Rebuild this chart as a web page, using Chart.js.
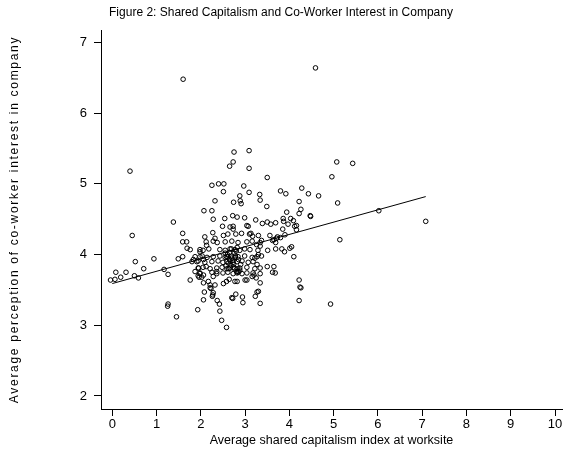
<!DOCTYPE html>
<html>
<head>
<meta charset="utf-8">
<script src="https://cdn.jsdelivr.net/npm/chart.js@4.4.1/dist/chart.umd.min.js"></script>
<style>
  html, body { margin: 0; padding: 0; background: #fff; }
  canvas { display: block; }
</style>
</head>
<body>
<canvas id="scatter" width="567" height="453"></canvas>
<script>
// 文字
const chartTitle = 'Figure 2: Shared Capitalism and Co-Worker Interest in Company';
const xTitle = 'Average shared capitalism index at worksite';
const yTitle = 'Average perception of co-worker interest in company';

// 刻度
const xTicks = [0, 1, 2, 3, 4, 5, 6, 7, 8, 9, 10];
const yTicks = [2, 3, 4, 5, 6, 7];

// 散點 [shared capitalism index, co-worker interest]
const leftTail = [
  [-0.04, 3.64], [0.06, 3.65], [0.08, 3.75], [0.19, 3.68], [0.31, 3.75], [0.40, 5.18],
  [0.45, 4.27], [0.50, 3.70], [0.52, 3.90], [0.59, 3.67], [0.71, 3.80], [0.94, 3.94],
  [1.17, 3.79], [1.26, 3.72], [1.25, 3.27], [1.26, 3.30], [1.38, 4.46], [1.45, 3.12],
  [1.49, 3.94], [1.59, 3.97], [1.59, 4.30], [1.59, 4.18], [1.68, 4.18], [1.69, 4.09],
  [1.60, 6.48], [1.76, 3.64], [1.76, 4.07], [1.93, 3.22]
];

const upperBand = [
  [2.07, 4.62], [2.25, 4.62], [2.28, 4.50], [2.32, 4.76], [2.25, 4.98], [2.40, 5.00],
  [2.52, 5.00], [2.51, 4.89], [2.97, 4.97], [3.09, 4.88], [2.88, 4.83], [2.89, 4.76],
  [2.91, 4.72], [2.74, 4.74], [3.33, 4.85], [3.34, 4.77], [3.49, 4.68], [2.75, 5.45],
  [3.09, 5.47], [2.73, 5.31], [2.65, 5.25], [3.09, 5.22], [3.50, 5.09], [3.80, 4.90],
  [3.92, 4.86], [4.28, 4.94], [4.43, 4.86], [4.66, 4.83], [4.22, 4.75], [4.26, 4.64],
  [4.22, 4.58], [4.47, 4.55], [4.48, 4.54], [3.94, 4.60], [5.07, 5.31], [5.43, 5.29],
  [4.96, 5.10], [5.09, 4.73], [6.02, 4.62], [4.59, 6.64], [7.08, 4.47], [2.54, 4.51],
  [2.72, 4.55], [2.82, 4.53], [2.99, 4.52], [3.24, 4.49], [3.86, 4.51], [4.03, 4.51],
  [4.09, 4.48]
];

const middleBand = [
  [3.04, 4.41], [3.39, 4.44], [3.50, 4.46], [3.58, 4.43], [3.69, 4.45], [3.87, 4.47],
  [3.97, 4.43], [4.16, 4.41], [4.16, 4.35], [4.12, 4.40], [3.85, 4.36], [3.90, 4.28],
  [3.80, 4.24], [3.71, 4.23], [3.65, 4.21], [3.62, 4.20], [3.56, 4.27], [2.49, 4.40],
  [2.66, 4.39], [2.73, 4.40], [3.07, 4.40], [3.10, 4.29], [2.27, 4.31], [2.09, 4.25],
  [2.32, 4.23], [2.13, 4.13], [2.51, 4.27], [2.61, 4.29], [2.73, 4.36], [2.79, 4.29],
  [2.92, 4.30], [3.13, 4.30], [3.17, 4.26], [3.30, 4.27], [3.37, 4.20], [3.73, 4.25],
  [3.69, 4.17], [5.14, 4.21], [2.12, 4.18], [2.28, 4.19], [2.37, 4.17], [2.55, 4.18],
  [2.70, 4.19], [2.84, 4.17], [3.04, 4.18], [3.16, 4.19], [3.34, 4.17],
  [3.69, 4.08], [3.83, 4.08], [3.89, 4.04], [4.01, 4.09], [4.05, 4.11], [4.10, 3.97],
  [3.51, 4.06], [3.26, 4.14], [3.34, 4.12], [3.30, 4.00], [3.22, 3.95], [3.37, 3.98]
];

const coreCluster = [
  [1.98, 4.07], [2.05, 4.06], [2.18, 4.08], [2.43, 4.07], [2.55, 4.06], [2.66, 4.08],
  [2.77, 4.07], [2.88, 4.06], [2.99, 4.08], [3.11, 4.07], [3.29, 4.06],
  [1.87, 3.97], [2.03, 3.98], [2.14, 3.96], [2.28, 3.97], [2.43, 3.98], [2.55, 3.96],
  [2.61, 3.97], [2.70, 3.98], [2.77, 3.96], [2.84, 3.97], [2.99, 3.98], [3.16, 3.96],
  [3.27, 3.97],
  [1.80, 3.90], [1.94, 3.91], [2.09, 3.89], [2.25, 3.90], [2.39, 3.91], [2.50, 3.89],
  [2.59, 3.90], [2.66, 3.91], [2.73, 3.89], [2.82, 3.90], [2.93, 3.91], [3.07, 3.89],
  [3.18, 3.90],
  [1.94, 3.81], [2.05, 3.82], [2.21, 3.80], [2.36, 3.81], [2.48, 3.82], [2.59, 3.80],
  [2.66, 3.81], [2.73, 3.82], [2.82, 3.80], [2.88, 3.81], [3.04, 3.82], [3.22, 3.80],
  [1.98, 3.74], [2.25, 3.75], [2.36, 3.73], [2.50, 3.74], [2.61, 3.75], [2.73, 3.73],
  [2.82, 3.74], [2.84, 3.75], [2.93, 3.73], [3.04, 3.74],
  [2.60, 4.00], [2.65, 4.03], [2.70, 3.95], [2.75, 4.02], [2.62, 3.88], [2.68, 3.85],
  [2.72, 3.92], [2.78, 3.98], [2.65, 3.93], [2.80, 4.05], [2.58, 3.97], [2.74, 3.86],
  [2.85, 3.93], [2.55, 4.02], [2.69, 4.08], [2.76, 3.80], [2.63, 3.80], [2.90, 3.86],
  [2.82, 4.10], [2.57, 3.84], [2.86, 3.76], [2.88, 3.78],
  [1.98, 3.97], [1.91, 3.90], [2.06, 3.93], [2.12, 3.83], [1.95, 3.81], [1.87, 3.76],
  [2.06, 3.71], [1.96, 3.68], [2.28, 3.69], [2.17, 3.62], [2.36, 3.76], [1.83, 3.93],
  [1.98, 4.04]
];

const lowerBand = [
  [1.94, 3.70], [1.98, 3.73], [2.02, 3.68], [2.06, 3.60], [2.08, 3.47], [2.06, 3.36],
  [2.21, 3.57], [2.23, 3.52], [2.28, 3.46], [2.26, 3.41], [2.37, 3.35], [2.42, 3.30],
  [2.43, 3.20], [2.47, 3.07], [2.58, 2.97], [2.51, 3.59], [2.58, 3.62], [2.64, 3.65],
  [2.77, 3.62], [2.70, 3.39], [2.79, 3.44], [2.94, 3.40], [2.95, 3.32], [2.82, 3.62],
  [2.81, 3.76], [3.00, 3.64], [3.04, 3.64], [3.16, 3.69], [3.20, 3.71], [3.34, 3.73],
  [3.25, 3.67], [3.34, 3.60], [3.27, 3.47], [3.23, 3.41], [3.34, 3.31], [3.18, 3.74],
  [2.72, 3.38], [2.27, 3.43], [3.30, 3.48], [2.21, 3.53], [2.32, 3.57],
  [3.65, 3.83], [3.62, 3.75], [3.50, 3.83], [3.68, 3.74], [4.22, 3.64], [4.24, 3.54],
  [4.26, 3.53], [4.22, 3.35], [4.93, 3.30], [3.27, 3.86], [3.34, 3.81]
];

// 迴歸線兩端
const fitX = [0, 7.08];
const fitY = [3.59, 4.82];

const allPoints = [...leftTail, ...upperBand, ...middleBand, ...coreCluster, ...lowerBand]
  .map(p => ({ x: p[0], y: p[1] }));
const fitLine = fitX.map((x, i) => ({ x, y: fitY[i] }));

const tickFont = { family: "'Liberation Sans', Arial, sans-serif", size: 13 };
const textFont = { family: "'Liberation Sans', Arial, sans-serif", size: 12.5 };

// y 軸標題（字距較寬，所以自己畫）
const yTitlePlugin = {
  id: 'yTitle',
  afterDraw(chart) {
    const { ctx, chartArea } = chart;
    ctx.save();
    ctx.translate(15, (chartArea.top + chartArea.bottom) / 2);
    ctx.rotate(-Math.PI / 2);
    ctx.font = "12px 'Liberation Sans', Arial, sans-serif";
    ctx.letterSpacing = '1.7px';
    ctx.textAlign = 'center';
    ctx.textBaseline = 'middle';
    ctx.fillStyle = '#000';
    ctx.fillText(yTitle, 0, 0);
    ctx.restore();
  }
};

const axisCommon = {
  type: 'linear',
  grid: { display: true, drawOnChartArea: false, drawTicks: true, tickLength: 7, color: '#000', lineWidth: 1 },
  border: { display: true, color: '#000', width: 1 },
};

new Chart(document.getElementById('scatter'), {
  type: 'scatter',
  data: {
    datasets: [
      {
        data: allPoints,
        pointStyle: 'circle',
        pointRadius: 2.3,
        pointBorderWidth: 1,
        pointBorderColor: '#000',
        pointBackgroundColor: 'rgba(0,0,0,0)'
      },
      {
        data: fitLine,
        showLine: true,
        borderColor: '#000',
        borderWidth: 1,
        pointRadius: 0,
        fill: false
      }
    ]
  },
  options: {
    responsive: false,
    animation: false,
    devicePixelRatio: 1,
    layout: { padding: { left: 0, right: 5, top: 0, bottom: 0 } },
    plugins: {
      legend: { display: false },
      tooltip: { enabled: false },
      title: {
        display: true,
        text: chartTitle,
        color: '#000',
        font: { ...textFont, size: 12, weight: 'normal', lineHeight: 1 },
        padding: { top: 7, bottom: 11 }
      }
    },
    scales: {
      x: {
        ...axisCommon,
        min: -0.255,
        max: 10.158,
        afterBuildTicks: s => { s.ticks = xTicks.map(v => ({ value: v })); },
        afterFit: s => { s.height = 44; },
        ticks: { color: '#000', font: tickFont, padding: 1, maxRotation: 0 },
        title: { display: true, text: xTitle, color: '#000', font: textFont, padding: { top: 0, bottom: 4.5 } }
      },
      y: {
        ...axisCommon,
        min: 1.816,
        max: 7.176,
        afterBuildTicks: s => { s.ticks = yTicks.map(v => ({ value: v })); },
        afterFit: s => { s.width = 101; },
        ticks: { color: '#000', font: tickFont, padding: 7 }
      }
    }
  },
  plugins: [yTitlePlugin]
});
</script>
</body>
</html>
